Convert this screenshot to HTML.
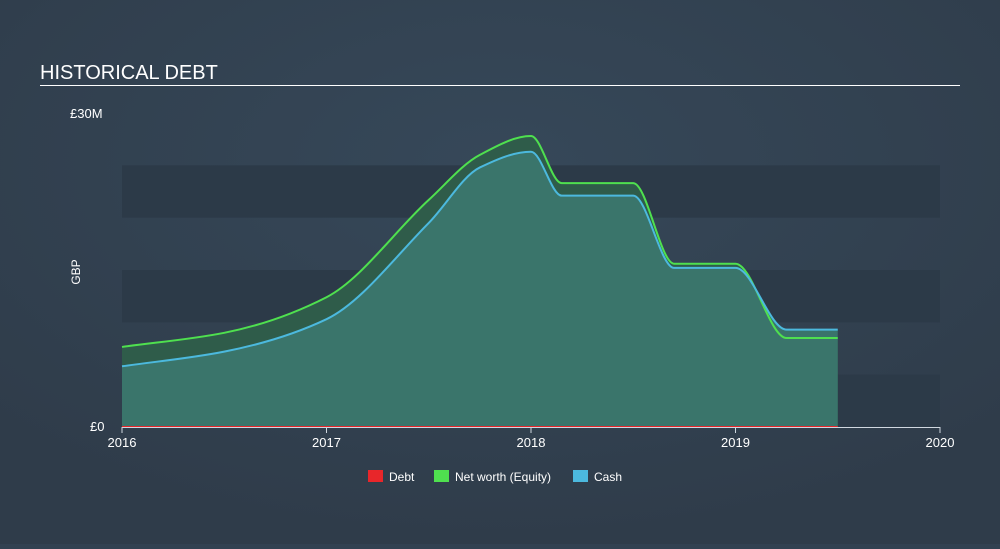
<!DOCTYPE html>
<html><head><meta charset="utf-8"><style>
body{margin:0;width:1000px;height:544px;background:#324151;font-family:"Liberation Sans",sans-serif;overflow:hidden}
svg text{font-family:"Liberation Sans",sans-serif}
</style></head><body>
<svg width="1000" height="544">
<defs><radialGradient id="bg" cx="50%" cy="30%" r="70%"><stop offset="0" stop-color="#364859"/><stop offset="1" stop-color="#2f3c4a"/></radialGradient></defs>
<rect width="1000" height="544" fill="url(#bg)"/>
<text x="40" y="79" font-size="20" fill="#fff">HISTORICAL DEBT</text>
<rect x="40" y="85" width="920" height="1" fill="#fff"/>
<g id="bands"></g>
<g id="areas"></g>
<text x="70" y="118" font-size="13" fill="#fff">£30M</text>
<text x="90" y="431" font-size="13" fill="#fff">£0</text>
<text x="80" y="272" font-size="12" fill="#fff" transform="rotate(-90 80 272)" text-anchor="middle">GBP</text>
<g id="xaxis"></g>
<g>
<rect x="368" y="470" width="15" height="12" fill="#e8262a"/>
<text x="389" y="481" font-size="12" fill="#fff">Debt</text>
<rect x="434" y="470" width="15" height="12" fill="#4fe04f"/>
<text x="455" y="481" font-size="12" fill="#fff">Net worth (Equity)</text>
<rect x="573" y="470" width="15" height="12" fill="#4cb9de"/>
<text x="594" y="481" font-size="12" fill="#fff">Cash</text>
</g>
</svg>
<script>
const dates=[2016,2016.5,2017,2017.5,2017.75,2018,2018.15,2018.5,2018.7,2019,2019.25,2019.5];
const equity=[7.65,9.0,12.4,21.7,26.0,27.8,23.3,23.3,15.6,15.6,8.5,8.5];
const cash=[5.8,7.2,10.3,19.5,24.8,26.3,22.1,22.1,15.2,15.2,9.3,9.3];
const debt=[0,0,0,0,0,0,0,0,0,0,0,0];
const xTicks=[2016,2017,2018,2019,2020];
const NS="http://www.w3.org/2000/svg";
const x=d=>122+(d-2016)*(940-122)/4;
const y=v=>427-v*(427-113)/30;
function mk(tag,a,p){const e=document.createElementNS(NS,tag);for(const k in a)e.setAttribute(k,a[k]);p.appendChild(e);return e;}
const bands=document.getElementById('bands');
for(let i=0;i<6;i+=2){const r=mk('rect',{x:122,y:y(i*5+5),width:818,height:y(i*5)-y(i*5+5),fill:'#2c3a48'},bands);

}
function mono(xs,ys){const n=xs.length,d=[],m=[];for(let i=0;i<n-1;i++)d.push((ys[i+1]-ys[i])/(xs[i+1]-xs[i]));
m[0]=d[0];m[n-1]=d[n-2];for(let i=1;i<n-1;i++){m[i]=d[i-1]*d[i]<=0?0:3*(d[i-1]+d[i])/((2/d[i-1]+1/d[i])*(d[i-1]+d[i])/ (d[i-1]+d[i]) *1)/3;
if(d[i-1]*d[i]>0){m[i]=2/(1/d[i-1]+1/d[i]);}}
let s=`M${xs[0]},${ys[0]}`;for(let i=0;i<n-1;i++){const h=(xs[i+1]-xs[i])/3;s+=`C${xs[i]+h},${ys[i]+m[i]*h} ${xs[i+1]-h},${ys[i+1]-m[i+1]*h} ${xs[i+1]},${ys[i+1]}`;}return s;}
const g=document.getElementById('areas');const xs=dates.map(x);
const base=`L${xs[xs.length-1]},427L${xs[0]},427Z`;
const eP=mono(xs,equity.map(y)),cP=mono(xs,cash.map(y));
let e=mk('path',{d:eP+base,fill:'#2f5c4a'},g);


e=mk('path',{d:cP+base,fill:'#3b766d',opacity:0.95},g);


e=mk('path',{d:eP,fill:'none',stroke:'#4fe04f','stroke-width':2},g);


e=mk('path',{d:cP,fill:'none',stroke:'#4cb9de','stroke-width':2},g);


e=mk('path',{d:mono(xs,debt.map(y)),fill:'none',stroke:'#e8262a','stroke-width':2},g);


const xa=document.getElementById('xaxis');
e=mk('rect',{x:122,y:427,width:818,height:1,fill:'#d0d8e0'},xa);


xTicks.forEach(t=>{const l=mk('rect',{x:x(t)-0.5,y:427,width:1,height:6,fill:'#d0d8e0'},xa);


const tx=mk('text',{x:x(t),y:447,'font-size':13,fill:'#fff','text-anchor':'middle'},xa);tx.textContent=t;

});
</script>
</body></html>
